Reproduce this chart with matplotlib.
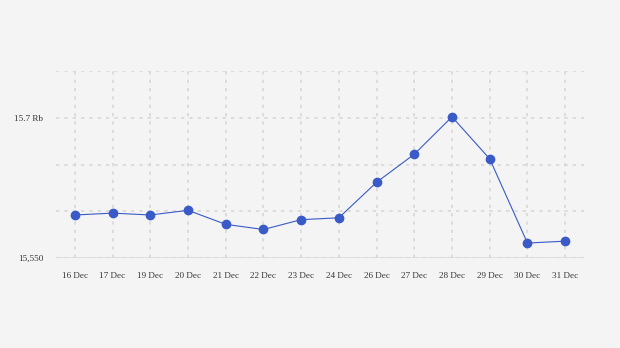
import matplotlib.pyplot as plt
import numpy as np

# data
dates = ['16 Dec', '17 Dec', '19 Dec', '20 Dec', '21 Dec', '22 Dec', '23 Dec',
         '24 Dec', '26 Dec', '27 Dec', '28 Dec', '29 Dec', '30 Dec', '31 Dec']
kurs = [15596, 15598, 15596, 15601, 15586, 15580.5, 15591,
        15593, 15631, 15661, 15701, 15656, 15566, 15568]
ytick_vals = [15550, 15600, 15650, 15700, 15750]
ytick_labels = ['15,550', '', '', '15.7 Rb', '']

plt.rcParams['font.family'] = ['Liberation Serif', 'DejaVu Serif']

fig = plt.figure(figsize=(6.2, 3.48), dpi=100)
fig.patch.set_facecolor('#f4f4f4')
ax = fig.add_axes([56 / 620, 1 - 258 / 348, (584 - 56) / 620, (258 - 71) / 348])
ax.set_facecolor('#f4f4f4')

x = np.arange(len(dates))
ax.plot(x, kurs, color='#3a5bc7', lw=0.8, marker='o', ms=6, mfc='#3a5bc7', mec='#3a5bc7', zorder=3)

ax.set_xlim(-0.5, len(dates) - 0.5)
ax.set_ylim(15550, 15750)
ax.set_xticks(x)
ax.set_xticklabels(dates, fontsize=6.6, color='#333333')
ax.set_yticks(ytick_vals)
ax.set_yticklabels(ytick_labels, fontsize=6.6, color='#333333')
ax.tick_params(length=0)
ax.tick_params(axis='y', pad=9)
ax.tick_params(axis='x', pad=10)

ax.grid(True, color='#d8d8d8', lw=1.2, ls=(0, (2, 3)))
for s in ax.spines.values():
    s.set_visible(False)
ax.axhline(15550, color='#dddddd', lw=1.2, zorder=1)

fig.savefig('out.png', dpi=100, facecolor=fig.get_facecolor())
